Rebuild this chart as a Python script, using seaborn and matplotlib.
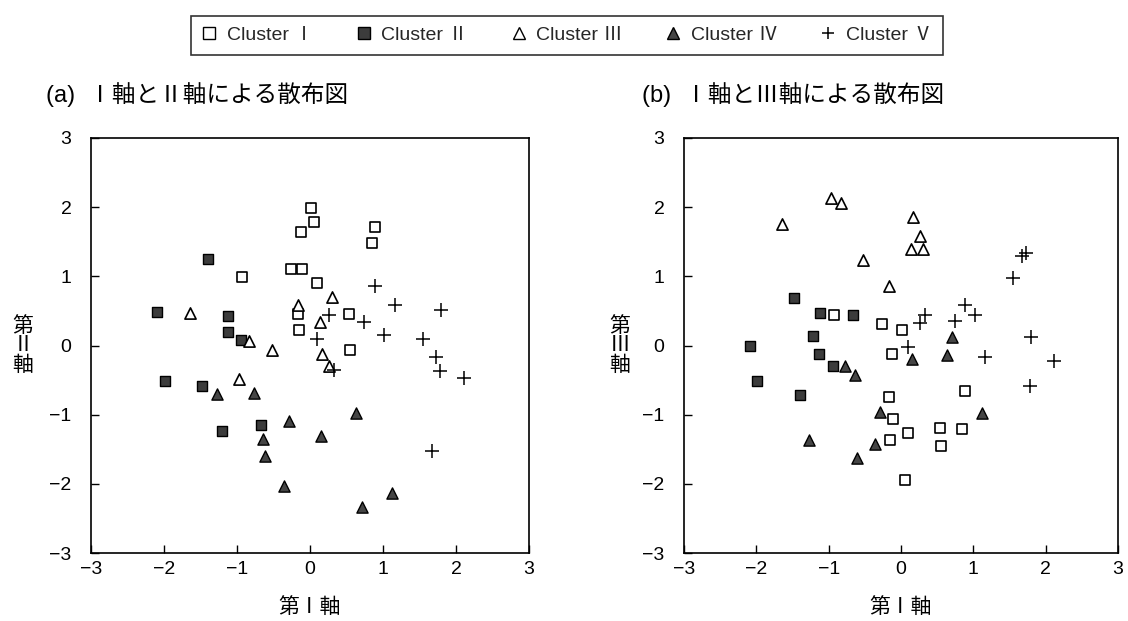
import matplotlib
matplotlib.use('Agg')
import matplotlib.pyplot as plt
import seaborn as sns
import pandas as pd
from matplotlib.lines import Line2D

# ---- data: cluster scores on axes I, II, III ----
clusters = ['Cluster Ⅰ', 'Cluster Ⅱ', 'Cluster Ⅲ', 'Cluster Ⅳ', 'Cluster Ⅴ']

c1_axis1 = [-0.93, -0.26, -0.17, -0.15, -0.12, -0.11, 0.02, 0.05, 0.10, 0.54, 0.55, 0.85, 0.89]
c1_axis2 = [0.99, 1.11, 0.46, 0.23, 1.64, 1.11, 1.99, 1.78, 0.91, 0.45, -0.06, 1.48, 1.71]
c1_axis3 = [0.44, 0.31, -0.74, -1.37, -0.13, -1.06, 0.23, -1.95, -1.26, -1.19, -1.46, -1.20, -0.66]

c2_axis1 = [-2.09, -1.99, -1.48, -1.40, -1.21, -1.13, -1.12, -0.94, -0.67]
c2_axis2 = [0.48, -0.52, -0.58, 1.25, -1.23, 0.42, 0.19, 0.08, -1.15]
c2_axis3 = [0.00, -0.52, 0.69, -0.72, 0.14, -0.12, 0.47, -0.30, 0.44]

c3_axis1 = [-1.65, -0.97, -0.83, -0.52, -0.17, 0.14, 0.16, 0.26, 0.30]
c3_axis2 = [0.47, -0.48, 0.07, -0.07, 0.59, 0.34, -0.13, -0.29, 0.70]
c3_axis3 = [1.76, 2.13, 2.06, 1.23, 0.86, 1.39, 1.86, 1.59, 1.40]

c4_axis1 = [-1.27, -0.77, -0.29, -0.64, -0.61, -0.36, 0.15, 0.63, 1.12, 0.71]
c4_axis2 = [-0.70, -0.69, -1.09, -1.35, -1.60, -2.03, -1.31, -0.98, -2.13, -2.34]
c4_axis3 = [-1.37, -0.29, -0.96, -0.43, -1.62, -1.42, -0.19, -0.14, -0.97, 0.12]

c5_axis1 = [0.10, 0.26, 0.33, 0.74, 0.89, 1.02, 1.16, 1.55, 1.67, 1.73, 1.78, 1.80, 2.11]
c5_axis2 = [0.09, 0.44, -0.35, 0.34, 0.86, 0.15, 0.59, 0.09, -1.52, -0.17, -0.37, 0.52, -0.47]
c5_axis3 = [-0.02, 0.33, 0.44, 0.35, 0.59, 0.44, -0.17, 0.97, 1.30, 1.34, -0.59, 0.13, -0.22]

ticks = [-3, -2, -1, 0, 1, 2, 3]

axis1_all = [c1_axis1, c2_axis1, c3_axis1, c4_axis1, c5_axis1]
axis2_all = [c1_axis2, c2_axis2, c3_axis2, c4_axis2, c5_axis2]
axis3_all = [c1_axis3, c2_axis3, c3_axis3, c4_axis3, c5_axis3]

rows = []
for name, a1, a2, a3 in zip(clusters, axis1_all, axis2_all, axis3_all):
    for v1, v2, v3 in zip(a1, a2, a3):
        rows.append({'cluster': name, 'axis1': v1, 'axis2': v2, 'axis3': v3})
df = pd.DataFrame(rows)

# ---- styling ----
sns.set_theme(style='white')
plt.rcParams['font.family'] = ['Liberation Sans', 'Noto Sans CJK JP', 'DejaVu Sans']
plt.rcParams['axes.unicode_minus'] = True

styles = {
    'Cluster Ⅰ': dict(marker='s', facecolor='white', edgecolor='black', s=55, linewidth=1.2),
    'Cluster Ⅱ': dict(marker='s', facecolor='#3c3c3c', edgecolor='black', s=55, linewidth=1.0),
    'Cluster Ⅲ': dict(marker='^', facecolor='white', edgecolor='black', s=65, linewidth=1.2),
    'Cluster Ⅳ': dict(marker='^', facecolor='#454545', edgecolor='black', s=65, linewidth=1.0),
    'Cluster Ⅴ': dict(marker='+', color='black', s=90, linewidth=1.1),
}

W, H = 1128, 621
fig = plt.figure(figsize=(W / 100, H / 100), dpi=100)
ax1 = fig.add_axes([91 / W, 1 - 553 / H, 438 / W, 415 / H])
ax2 = fig.add_axes([684 / W, 1 - 553 / H, 434 / W, 415 / H])

for ax, ycol, ylab, title, tx, ylx in [
        (ax1, 'axis2', '第\nⅡ\n軸', '(a)  Ⅰ軸とⅡ軸による散布図', 46, (23 - 91) / 438),
        (ax2, 'axis3', '第\nⅢ\n軸', '(b)  Ⅰ軸とⅢ軸による散布図', 642, (620 - 684) / 434)]:
    for name in clusters:
        sub = df[df['cluster'] == name]
        sns.scatterplot(data=sub, x='axis1', y=ycol, ax=ax, legend=False,
                        zorder=3, **styles[name])
    ax.set_xlim(-3, 3)
    ax.set_ylim(-3, 3)
    ax.set_xticks(ticks)
    ax.set_yticks(ticks)
    ax.set_xticklabels([f'{t}'.replace('-', '−') for t in ticks])
    ax.set_yticklabels([f'{t}'.replace('-', '−') for t in ticks])
    ax.tick_params(axis='both', which='both', direction='in', length=6, width=1,
                   labelsize=14, colors='black', bottom=True, left=True,
                   top=False, right=False)
    ax.tick_params(axis='y', pad=14)
    ax.tick_params(axis='x', pad=6)
    for sp in ax.spines.values():
        sp.set_color('black')
        sp.set_linewidth(1.2)
        sp.set_visible(True)
    ax.set_xlabel('第Ⅰ軸', fontsize=15, color='black')
    ax.xaxis.set_label_coords(0.5, (553 - 607) / 415)
    ax.xaxis.label.set_va('center')
    ax.set_ylabel(ylab, fontsize=15, rotation=0, linespacing=1.05, color='black')
    ax.yaxis.set_label_coords(ylx, 0.5)
    ax.yaxis.label.set_va('center')
    ax.yaxis.label.set_ha('center')
    fig.text(tx / W, 1 - 95 / H, title, fontsize=17, ha='left', va='center', color='black')

handles = []
for name in clusters:
    st = styles[name]
    if st['marker'] == '+':
        h = Line2D([], [], linestyle='none', marker='+', color='black',
                   markersize=9, markeredgewidth=1.1)
    else:
        h = Line2D([], [], linestyle='none', marker=st['marker'],
                   markerfacecolor=st['facecolor'], markeredgecolor='black',
                   markersize=8, markeredgewidth=1.0)
    handles.append(h)

leg = fig.legend(handles, clusters, loc='center', bbox_to_anchor=(567 / W, 1 - 35.5 / H),
                 ncol=5, frameon=True, fancybox=False, edgecolor='black',
                 fontsize=14, handlelength=0.8, handletextpad=0.5, columnspacing=2.2,
                 borderpad=0.55)
leg.get_frame().set_linewidth(1.2)

fig.savefig('out.png', dpi=100, facecolor='white')
